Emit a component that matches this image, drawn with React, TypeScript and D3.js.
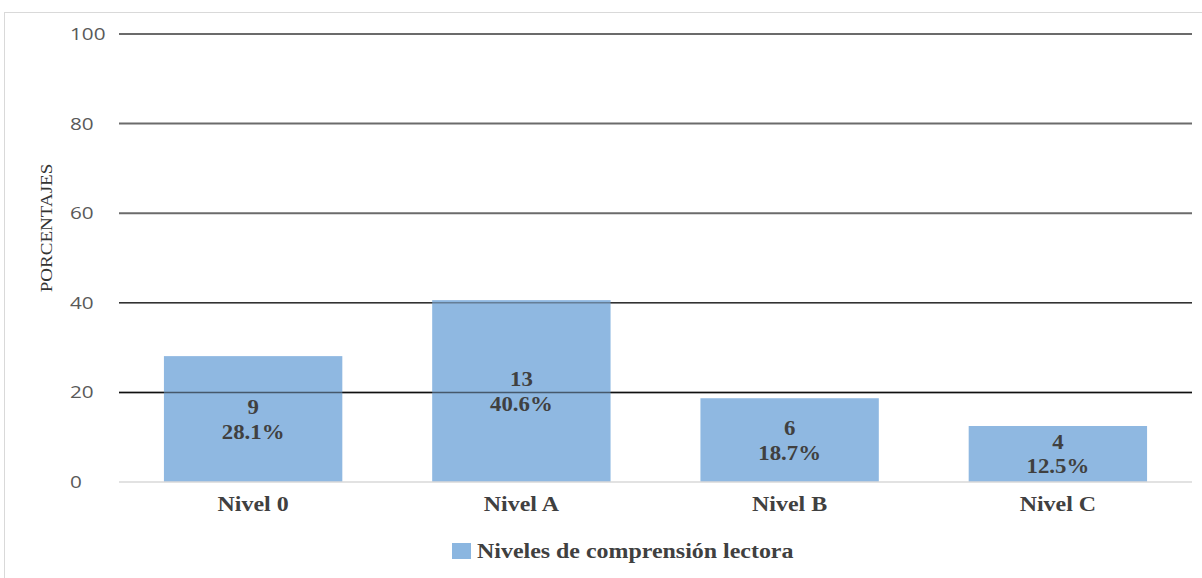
import React, { useEffect, useRef } from "react";
import * as d3 from "d3";

// chart data
const categories = ["Nivel 0", "Nivel A", "Nivel B", "Nivel C"];
const counts = [9, 13, 6, 4];
const percents = [28.1, 40.6, 18.7, 12.5];
const yTicks = [0, 20, 40, 60, 80, 100];
const seriesName = "Niveles de comprensión lectora";

const App = () => {
    const svgRef = useRef<SVGSVGElement | null>(null);

    useEffect(() => {
        const width = 1202;
        const height = 578;
        const margin = { top: 34, right: 10, bottom: 96, left: 119 };
        const plotRight = 1192;
        const plotBottom = height - margin.bottom;

        const svg = d3.select(svgRef.current);
        svg.selectAll("*").remove();
        svg.attr("width", width).attr("height", height);

        // the reference text is a little stretched horizontally
        const stretch = 1.14;

        // outer chart frame
        svg.append("rect")
            .attr("x", 4.5)
            .attr("y", 12.5)
            .attr("width", width + 10)
            .attr("height", height + 10)
            .attr("fill", "#fff")
            .attr("stroke", "#d9d9d9");

        const x = d3.scaleBand<string>()
            .domain(categories)
            .range([margin.left, plotRight])
            .paddingInner(0.335)
            .paddingOuter(0.1675);

        const y = d3.scaleLinear()
            .domain([0, 100])
            .range([plotBottom, margin.top]);

        const serif = "'Liberation Serif', 'Times New Roman', serif";
        const sans = "'Open Sans', 'Noto Sans', sans-serif";

        // gridlines
        const gridColor = (t: number) => (t >= 60 ? "#6b6b6b" : t === 40 ? "#333" : "#111");
        svg.append("g")
            .selectAll("line")
            .data(yTicks.filter(t => t > 0))
            .enter()
            .append("line")
            .attr("x1", margin.left)
            .attr("x2", plotRight)
            .attr("y1", d => y(d))
            .attr("y2", d => y(d))
            .attr("stroke", d => gridColor(d))
            .attr("stroke-width", d => (d >= 60 ? 2 : 1.5));

        // bars
        svg.append("g")
            .selectAll("rect")
            .data(categories)
            .enter()
            .append("rect")
            .attr("x", d => x(d)!)
            .attr("y", (d, i) => y(percents[i]))
            .attr("width", x.bandwidth())
            .attr("height", (d, i) => plotBottom - y(percents[i]))
            .attr("fill", "#8bb6e0")
            .attr("fill-opacity", 0.97);

        // gridlines show faintly through the bars in the reference
        svg.append("line")
            .attr("x1", margin.left)
            .attr("x2", plotRight)
            .attr("y1", y(20))
            .attr("y2", y(20))
            .attr("stroke", "#111")
            .attr("stroke-opacity", 0.55)
            .attr("stroke-width", 1.5);
        svg.append("line")
            .attr("x1", margin.left)
            .attr("x2", plotRight)
            .attr("y1", y(40))
            .attr("y2", y(40))
            .attr("stroke", "#333")
            .attr("stroke-opacity", 0.4)
            .attr("stroke-width", 1.5);

        // baseline
        svg.append("line")
            .attr("x1", margin.left)
            .attr("x2", plotRight)
            .attr("y1", plotBottom)
            .attr("y2", plotBottom)
            .attr("stroke", "#d9d9d9")
            .attr("stroke-width", 1.5);

        // y tick labels
        svg.append("g")
            .selectAll("text")
            .data(yTicks)
            .enter()
            .append("text")
            .attr("transform", d => `translate(70, ${y(d)}) scale(1.22, 1)`)
            .attr("dy", "0.35em")
            .attr("font-family", sans)
            .attr("font-size", 17)
            .attr("fill", "#595959")
            .text(d => d);

        // y axis title
        svg.append("text")
            .attr("transform", `translate(52, 228) rotate(-90) scale(1.12, 1)`)
            .attr("text-anchor", "middle")
            .attr("font-family", serif)
            .attr("font-size", 17)
            .attr("fill", "#333")
            .text("PORCENTAJES");

        // data labels
        const labels = svg.append("g")
            .selectAll("g")
            .data(categories)
            .enter()
            .append("g")
            .attr("transform", (d, i) => {
                const cy = (y(percents[i]) + plotBottom) / 2;
                return `translate(${x(d)! + x.bandwidth() / 2}, ${cy}) scale(${stretch}, 1)`;
            });
        labels.append("text")
            .attr("text-anchor", "middle")
            .attr("y", -12.5)
            .attr("dy", "0.35em")
            .attr("font-family", serif)
            .attr("font-weight", "bold")
            .attr("font-size", 20)
            .attr("fill", "#404040")
            .text((d, i) => counts[i]);
        labels.append("text")
            .attr("text-anchor", "middle")
            .attr("y", 12.5)
            .attr("dy", "0.35em")
            .attr("font-family", serif)
            .attr("font-weight", "bold")
            .attr("font-size", 20)
            .attr("fill", "#404040")
            .text((d, i) => `${percents[i]}%`);

        // x labels
        svg.append("g")
            .selectAll("text")
            .data(categories)
            .enter()
            .append("text")
            .attr("transform", d => `translate(${x(d)! + x.bandwidth() / 2}, 504) scale(${stretch}, 1)`)
            .attr("dy", "0.35em")
            .attr("text-anchor", "middle")
            .attr("font-family", serif)
            .attr("font-weight", "bold")
            .attr("font-size", 21)
            .attr("fill", "#404040")
            .text(d => d);

        // legend
        const legend = svg.append("g").attr("transform", "translate(452, 551)");
        legend.append("rect")
            .attr("x", 0)
            .attr("y", -8)
            .attr("width", 19)
            .attr("height", 16)
            .attr("fill", "#8bb6e0");
        legend.append("text")
            .attr("transform", `translate(25, 0) scale(${stretch}, 1)`)
            .attr("dy", "0.35em")
            .attr("font-family", serif)
            .attr("font-weight", "bold")
            .attr("font-size", 21)
            .attr("fill", "#404040")
            .text(seriesName);
    }, []);

    return (
        <div style={{ position: "absolute", left: 0, top: 0 }}>
            <svg ref={svgRef} style={{ display: "block" }} />
        </div>
    );
};

export default App;
